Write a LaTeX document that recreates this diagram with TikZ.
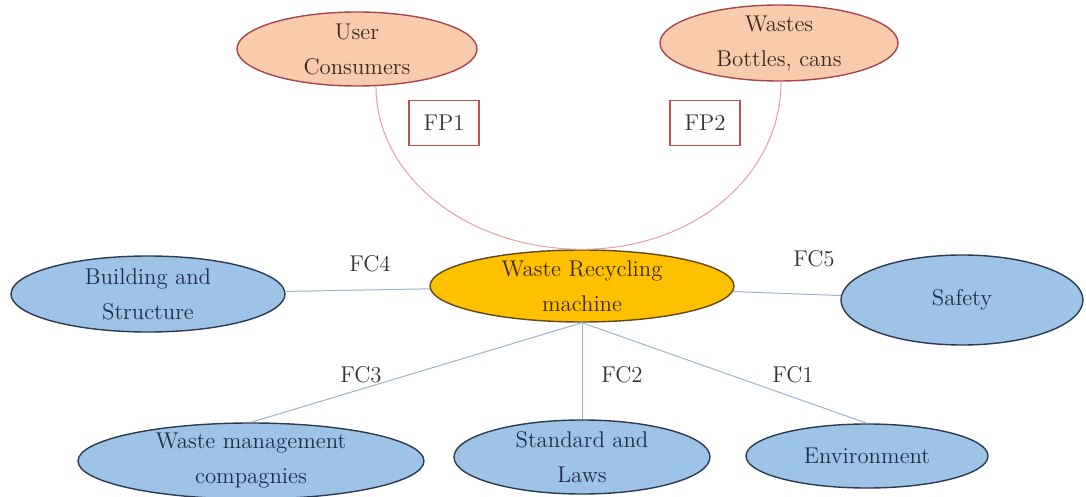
\documentclass[tikz,border=0pt]{standalone}
\usepackage{fontspec}
\usetikzlibrary{shapes.geometric}
\definecolor{peach}{HTML}{F8CBAD}
\definecolor{peachline}{HTML}{A8464E}
\definecolor{peachtext}{HTML}{3A2A1C}
\definecolor{bluefill}{HTML}{9DC3E6}
\definecolor{blueline}{HTML}{2C3A52}
\definecolor{bluetext}{HTML}{1E2D4A}
\definecolor{gold}{HTML}{FFC000}
\definecolor{goldline}{HTML}{5E4A1E}
\definecolor{goldtext}{HTML}{3A2A10}
\definecolor{fpred}{HTML}{C0504D}
\definecolor{fctext}{HTML}{333333}
\definecolor{fcline}{HTML}{9DB4CC}
\definecolor{arcline}{HTML}{E3A0A0}
\tikzset{
  base/.style={ellipse, inner sep=-3pt, align=center, line width=0.7pt,
    font=\fontsize{11.4}{17.5}\selectfont},
  pinkell/.style={base, draw=peachline, fill=peach, text=peachtext},
  blueell/.style={base, draw=blueline, fill=bluefill, text=bluetext},
  goldell/.style={base, draw=goldline, fill=gold, text=goldtext},
  fpbox/.style={rectangle, draw=fpred, line width=0.7pt, fill=white, text=fctext,
    inner sep=0pt, minimum width=35pt, minimum height=22.5pt,
    font=\fontsize{11.4}{15}\selectfont},
  fclabel/.style={text=fctext, inner sep=0pt, font=\fontsize{11.4}{15}\selectfont},
  fcconn/.style={draw=fcline, line width=0.5pt},
  arcconn/.style={draw=arcline, line width=0.5pt}
}
\begin{document}
\begin{tikzpicture}[x=0.5pt,y=-0.5pt]
\useasboundingbox (0,0) rectangle (1086,497);
% nodes
\node[pinkell, minimum width=120pt, minimum height=37pt] (u) at (357,49) {User\\Consumers};
\node[pinkell, minimum width=119pt, minimum height=38pt] (w) at (779,43) {Wastes\\Bottles, cans};
\node[goldell, minimum width=152pt, minimum height=36pt] (m) at (582,286) {Waste Recycling\\machine};
\node[blueell, minimum width=137pt, minimum height=38pt] (b) at (148,294) {Building and\\Structure};
\node[blueell, minimum width=121pt, minimum height=45pt] (s) at (962,300) {Safety};
\node[blueell, minimum width=173pt, minimum height=38pt] (wm) at (251,461) {Waste management\\compagnies};
\node[blueell, minimum width=128pt, minimum height=37pt] (sl) at (582,457) {Standard and\\Laws};
\node[blueell, minimum width=121pt, minimum height=32pt] (e) at (867,456) {Environment};
% FP arc
\draw[arcconn] (u.-63) .. controls +(0,92) and +(-112,0) .. (m.north)
  .. controls +(112,0) and +(0,94) .. (w.-87);
\node[fpbox] (fp1) at (444,123) {FP1};
\node[fpbox] (fp2) at (705,123) {FP2};
% FC connectors
\draw[fcconn] (b) -- (m);
\draw[fcconn] (m) -- (s);
\draw[fcconn] (m.south) -- (wm.north);
\draw[fcconn] (m.south) -- (sl.north);
\draw[fcconn] (m.south) -- (e.north);
\node[fclabel] (fc4) at (370,264) {FC4};
\node[fclabel] (fc5) at (814,259) {FC5};
\node[fclabel] (fc3) at (361,375) {FC3};
\node[fclabel] (fc2) at (622,375) {FC2};
\node[fclabel] (fc1) at (793,375) {FC1};
\end{tikzpicture}
\end{document}
